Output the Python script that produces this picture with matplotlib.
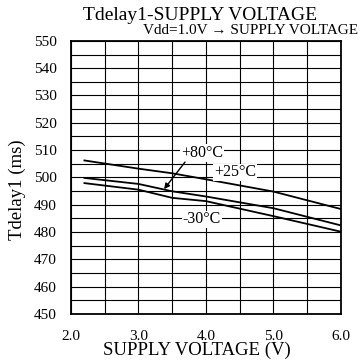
import matplotlib
matplotlib.use("Agg")
import matplotlib.pyplot as plt
import numpy as np

voltage = [2.2, 3.0, 3.5, 4.0, 5.0, 6.0]
t_top = [506.2, 503.2, 501.5, 499.3, 494.8, 488.4]
t_mid = [499.8, 497.6, 494.9, 493.0, 488.7, 482.4]
t_bot = [497.9, 495.5, 492.5, 491.3, 485.8, 480.1]

x_ticks = [2.0, 3.0, 4.0, 5.0, 6.0]
y_ticks = list(range(450, 551, 10))

plt.rcParams['font.family'] = ['Liberation Serif', 'DejaVu Serif']

W, H = 360, 362
fig = plt.figure(figsize=(3.6, 3.62), dpi=100)
ax = fig.add_axes([0.197, 0.133, 0.75, 0.754])

ax.set_xlim(2.0, 6.0)
ax.set_ylim(450, 550)
ax.set_xticks(np.arange(2.0, 6.01, 0.5), minor=True)
ax.set_yticks(np.arange(450, 551, 5), minor=True)
ax.set_xticks(x_ticks)
ax.set_xticklabels([f"{v:.1f}" for v in x_ticks])
ax.set_yticks(y_ticks)
ax.grid(True, which='both', color='black', linewidth=0.8)
ax.tick_params(which='both', length=0, labelsize=11)
ax.tick_params(axis='x', pad=11.5)
ax.tick_params(axis='y', pad=10)
for s in ax.spines.values():
    s.set_linewidth(1.3)

for ys in (t_top, t_mid, t_bot):
    ax.plot(voltage, ys, color='black', linewidth=1.3)

bbox = dict(facecolor='white', edgecolor='none', pad=0.5)
ax.text(3.94, 508.9, "+80°C", ha='center', va='center', fontsize=11.5, bbox=bbox)
ax.text(4.43, 501.8, "+25°C", ha='center', va='center', fontsize=11.5, bbox=bbox)
ax.text(3.94, 484.7, "-30°C", ha='center', va='center', fontsize=11.5, bbox=bbox)
ax.annotate("", xy=(3.38, 495.7), xytext=(3.69, 505.6),
            arrowprops=dict(arrowstyle='-|>', color='black', lw=1.0,
                            mutation_scale=8, shrinkA=0, shrinkB=0))

fig.text(200 / W, 1 - 15 / H, "Tdelay1-SUPPLY VOLTAGE", ha='center', va='center', fontsize=14)
fig.text(358 / W, 1 - 31 / H, "Vdd=1.0V \u2192 SUPPLY VOLTAGE", ha='right', va='center', fontsize=11)
fig.text(197 / W, 1 - 350 / H, "SUPPLY VOLTAGE (V)", ha='center', va='center', fontsize=13.5)
fig.text(17 / W, 1 - 190 / H, "Tdelay1 (ms)", ha='center', va='center', fontsize=13.5, rotation=90)

fig.savefig("out.png", dpi=100)
